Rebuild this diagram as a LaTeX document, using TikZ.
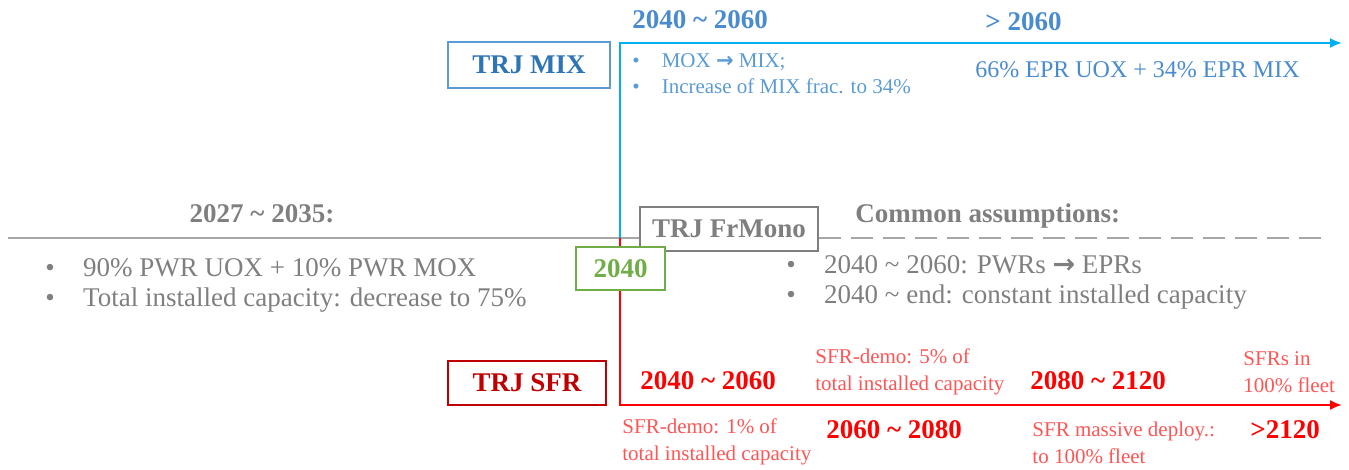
\documentclass[tikz,border=0pt]{standalone}
\usepackage{fontspec}
\setmainfont{Liberation Serif}
\newfontfamily\arrowfont{DejaVu Sans}
\usetikzlibrary{arrows.meta}
\usetikzlibrary{backgrounds}

\definecolor{mixarrow}{HTML}{00B0F0}
\definecolor{mixdark}{HTML}{2E75B6}
\definecolor{mixtext}{HTML}{4A8BD0}
\definecolor{mixlight}{HTML}{5B9BD5}
\definecolor{monogray}{HTML}{7F7F7F}
\definecolor{axisgray}{HTML}{A6A6A6}
\definecolor{startgreen}{HTML}{70AD47}
\definecolor{sfrred}{HTML}{FF0000}
\definecolor{sfrlight}{HTML}{FF5555}
\definecolor{sfrdark}{HTML}{C00000}

\newcommand{\bulitem}{\makebox[1.4em][l]{\textbullet}}
\newcommand{\til}{\textasciitilde}
\newcommand{\toarrow}{{\arrowfont\bfseries →}}

\begin{document}
\begin{tikzpicture}[x=0.5pt, y=-0.5pt,
  trj/.style = {draw, line width=1.2pt, fill=white, inner sep=0pt, font=\fontsize{13.5}{16}\selectfont\bfseries},
  period/.style = {anchor=west, inner sep=0pt, font=\fontsize{13.5}{16}\selectfont\bfseries},
  note/.style = {anchor=west, inner sep=0pt, align=left, font=\fontsize{10.5}{13.5}\selectfont},
  plain/.style = {anchor=west, inner sep=0pt, align=left, font=\fontsize{13.5}{15}\selectfont}]
\useasboundingbox (0,0) rectangle (1349,470);

% boxes
\node[trj, draw=mixlight, text=mixdark, minimum width=81pt, minimum height=23pt] (mix) at (529,65) {TRJ MIX};
\node[trj, draw=monogray, text=monogray, minimum width=89pt, minimum height=22pt] (mono) at (729,229) {TRJ FrMono};
\node[trj, draw=startgreen, text=startgreen, line width=0.8pt, minimum width=44.5pt, minimum height=21.5pt] (start) at (620.5,268.5) {2040};
\node[trj, draw=sfrdark, text=sfrdark, minimum width=79pt, minimum height=22pt] (sfr) at (527,383) {TRJ SFR};

% axes
\coordinate (left) at (8,238);
\coordinate (fork) at (620,238);
\coordinate (dashend) at (1325,238);
\coordinate (mixend) at (1342,43);
\coordinate (sfrend) at (1342,405);
\begin{scope}[on background layer]
\draw[axisgray, line width=0.8pt] (left) -- (left -| mono.west);
\draw[axisgray, line width=0.8pt, dash pattern=on 11pt off 5pt] (mono.east |- left) -- (dashend);
\draw[mixarrow, line width=1pt, -{Latex[length=6pt,width=5pt]}] (fork) |- (mixend);
\draw[sfrred, line width=1pt, -{Latex[length=6pt,width=5pt]}] (fork) |- (sfrend);
\end{scope}

% TRJ MIX
\node[period, mixtext] (mix1) at (632,20) {2040 \til\ 2060};
\node[period, mixtext] (mix2) at (985,22) {> 2060};
\node[note, mixlight, font=\fontsize{10.5}{13}\selectfont] (mix3) at (632,74) {\bulitem MOX \toarrow\ MIX;\\ \bulitem Increase of MIX frac. to 34\%};
\node[note, mixtext, font=\fontsize{12}{14}\selectfont] (mix4) at (975,70) {66\% EPR UOX + 34\% EPR MIX};

% common part
\node[period, monogray, anchor=center] (pre1) at (262,214) {2027 \til\ 2035:};
\node[plain, monogray] (pre2) at (45,285.5) {\bulitem 90\% PWR UOX + 10\% PWR MOX\\ \bulitem Total installed capacity: decrease to 75\%};
\node[period, monogray] (com1) at (855,216) {Common assumptions:};
\node[plain, monogray] (com2) at (786,282.5) {\bulitem 2040 \til\ 2060: PWRs \toarrow\ EPRs\\ \bulitem 2040 \til\ end: constant installed capacity};

% TRJ SFR
\node[period, sfrred] (sfr1) at (640,381) {2040 \til\ 2060};
\node[note, sfrlight] (sfr2) at (815,371.5) {SFR-demo: 5\% of\\total installed capacity};
\node[period, sfrred] (sfr3) at (1030,381) {2080 \til\ 2120};
\node[note, sfrlight] (sfr4) at (1243,372.5) {SFRs in\\100\% fleet};
\node[note, sfrlight] (sfr5) at (622,441.5) {SFR-demo: 1\% of\\total installed capacity};
\node[period, sfrred] (sfr6) at (826,430) {2060 \til\ 2080};
\node[note, sfrlight] (sfr7) at (1032,442.5) {SFR massive deploy.:\\to 100\% fleet};
\node[period, sfrred] (sfr8) at (1250,430) {>2120};
\end{tikzpicture}
\end{document}
